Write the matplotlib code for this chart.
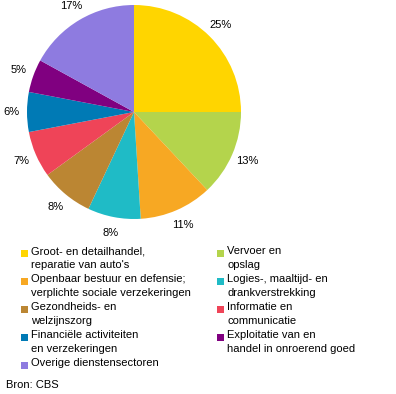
import matplotlib.pyplot as plt
from matplotlib.patches import Rectangle

plt.rcParams['font.family'] = ['Liberation Sans', 'DejaVu Sans']

sectors = ["Groot- en detailhandel,\nreparatie van auto's",
           "Vervoer en\nopslag",
           "Openbaar bestuur en defensie;\nverplichte sociale verzekeringen",
           "Logies-, maaltijd- en\ndrankverstrekking",
           "Gezondheids- en\nwelzijnszorg",
           "Informatie en\ncommunicatie",
           "Financiële activiteiten\nen verzekeringen",
           "Exploitatie van en\nhandel in onroerend goed",
           "Overige dienstensectoren"]
shares = [25, 13, 11, 8, 8, 7, 6, 5, 17]
colors = ['#FFD500', '#B4D44C', '#F7A823', '#1FBBC6', '#BB8633',
          '#EF4458', '#007AB5', '#800080', '#8E7BE0']

W, H = 396, 394
fig = plt.figure(figsize=(W / 100, H / 100), dpi=100)

# pie axes, pixel box of the circle
ax = fig.add_axes([27 / W, 1 - 219 / H, 214 / W, 214 / H])
ax.pie(shares, colors=colors, startangle=90, counterclock=False,
       labels=[f'{s}%' for s in shares], labeldistance=1.15,
       textprops={'fontsize': 8, 'ha': 'center', 'va': 'center'},
       wedgeprops={'linewidth': 0})
ax.set_aspect('equal')
ax.set_xlim(-1, 1)
ax.set_ylim(-1, 1)
ax.axis('off')

# legend in two columns, left-to-right then down
for i, (name, c) in enumerate(zip(sectors, colors)):
    col, row = i % 2, i // 2
    x0 = 21 if col == 0 else 217
    y0 = 250 + row * 28
    fig.patches.append(Rectangle((x0 / W, 1 - (y0 + 7) / H), 7 / W, 7 / H,
                                 facecolor=c, edgecolor='none',
                                 transform=fig.transFigure))
    fig.text((x0 + 10) / W, 1 - (y0 - 4) / H, name, fontsize=8,
             va='top', ha='left', linespacing=1.5)

fig.text(6 / W, 1 - 385 / H, 'Bron: CBS', fontsize=8, va='center', ha='left')

fig.savefig('out.png', dpi=100)
